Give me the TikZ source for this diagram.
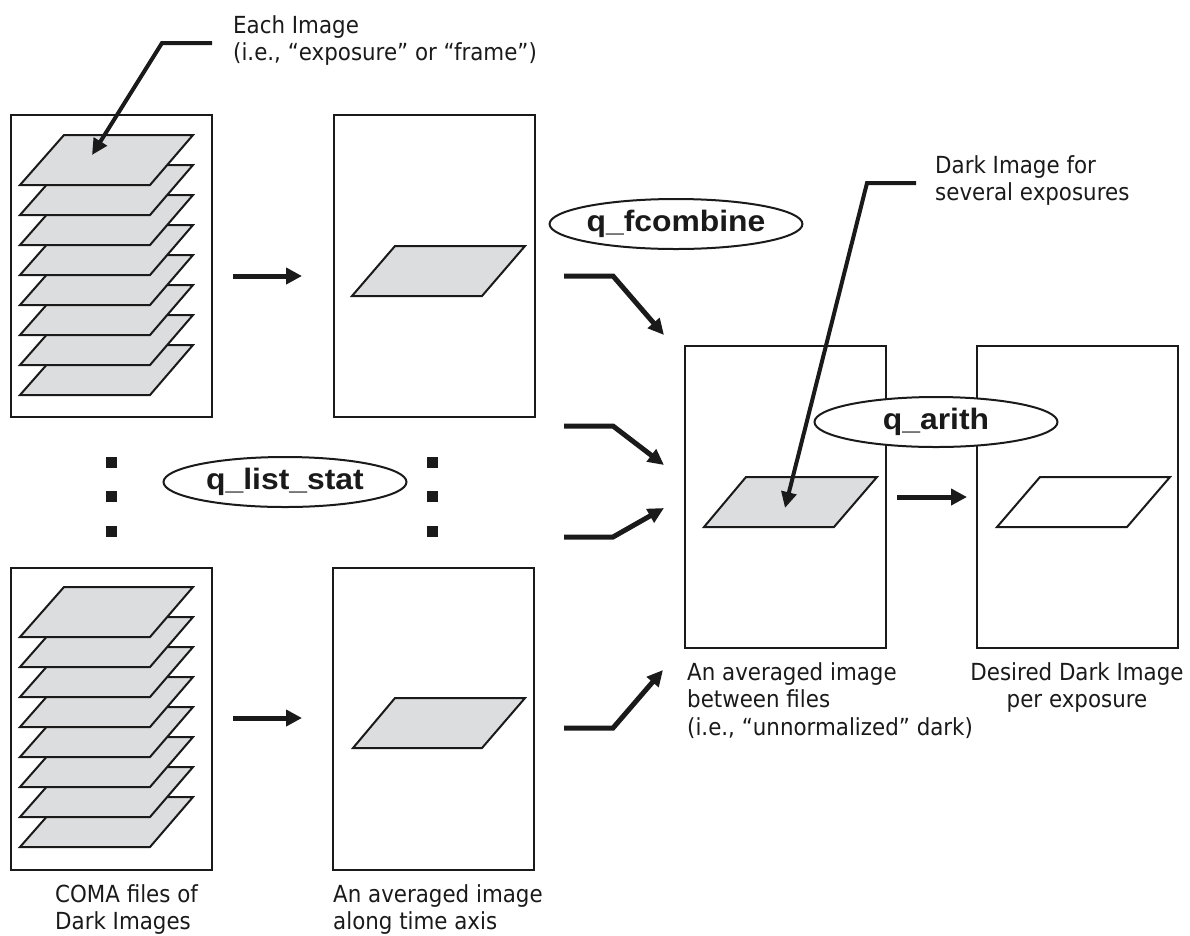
\documentclass[tikz,border=0pt]{standalone}
\usepackage{fontspec}
\setmainfont[FakeStretch=0.91]{DejaVu Sans}
\newfontfamily\qfont[FakeStretch=1.08]{Liberation Sans}
\usetikzlibrary{shapes.geometric,arrows.meta}
\definecolor{ink}{HTML}{1A1A1A}
\definecolor{sheetgray}{HTML}{DCDDDF}
\tikzset{
  box/.style={draw=ink, line width=2pt, minimum width=201pt, minimum height=302pt, inner sep=0pt},
  sheet/.style={draw=ink, line width=2pt, fill=sheetgray, line join=miter},
  blank/.style={draw=ink, line width=2pt, fill=white, line join=miter},
  flow/.style={draw=ink, line width=5pt, -{Triangle[length=16pt,width=16pt]}},
  leader/.style={draw=ink, line width=4pt, line join=miter, -{Triangle[length=16pt,width=15pt]}},
  tool/.style={ellipse, draw=ink, line width=2pt, fill=white, minimum width=243pt, minimum height=50pt, inner sep=0pt, text=ink, font=\qfont\bfseries\fontsize{29.5}{29.5}\selectfont},
  lab/.style={inner sep=0pt, text=ink, font=\fontsize{23.5}{27.5}\selectfont},
  dot/.style={rectangle, fill=ink, minimum size=11pt, inner sep=0pt}
}
\begin{document}
\begin{tikzpicture}[x=1pt,y=-1pt]
\useasboundingbox (0,0) rectangle (1190,935);
% boxes
\node[box] (b1) at (111.5,266) {};
\node[box] (b2) at (434.5,266) {};
\node[box] (b3) at (111,718.5) {};
\node[box] (b4) at (433.5,718.5) {};
\node[box] (b5) at (785,496.5) {};
\node[box] (b6) at (1077,496.5) {};
% sheet stacks
\foreach \k in {7,...,0} {
  \pgfmathsetmacro\tp{135+30*\k}
  \draw[sheet] (20,\tp+50) -- (150,\tp+50) -- (193,\tp) -- (64,\tp) -- cycle;
}
\foreach \k in {7,...,0} {
  \pgfmathsetmacro\tp{587+30*\k}
  \draw[sheet] (20,\tp+50) -- (150,\tp+50) -- (193,\tp) -- (64,\tp) -- cycle;
}
\draw[sheet] (352,296) -- (482,296) -- (525,246) -- (395,246) -- cycle;
\draw[sheet] (353,748) -- (482,748) -- (525,698) -- (395,698) -- cycle;
\draw[sheet] (704,527) -- (834,527) -- (877,477) -- (746,477) -- cycle;
\draw[blank] (997,527) -- (1127,527) -- (1170,477) -- (1040,477) -- cycle;
% dots
\foreach \y [count=\i] in {462,496.5,531} {
  \node[dot] (dl\i) at (111,\y) {};
  \node[dot] (dm\i) at (432,\y) {};
}
% horizontal flow arrows
\coordinate (a1s) at (233,276); \coordinate (a1e) at (302,276);
\coordinate (a2s) at (233,718); \coordinate (a2e) at (302,718);
\coordinate (a3s) at (897,497); \coordinate (a3e) at (967,497);
\draw[flow] (a1s) -- (a1e);
\draw[flow] (a2s) -- (a2e);
\draw[flow] (a3s) -- (a3e);
% merging arrows into b5
\coordinate (mAs) at (564,276); \coordinate (mAk) at (613,276); \coordinate (mAe) at (664,335);
\coordinate (mBs) at (564,426); \coordinate (mBk) at (613,426); \coordinate (mBe) at (664,465);
\coordinate (mCs) at (564,537); \coordinate (mCk) at (613,537); \coordinate (mCe) at (664,508);
\coordinate (mDs) at (564,728); \coordinate (mDk) at (613,728); \coordinate (mDe) at (663,670);
\draw[leader,line width=5pt] (mAs) -- (mAk) -- (mAe);
\draw[leader,line width=5pt] (mBs) -- (mBk) -- (mBe);
\draw[leader,line width=5pt] (mCs) -- (mCk) -- (mCe);
\draw[leader,line width=5pt] (mDs) -- (mDk) -- (mDe);
% tool ellipses
\node[tool] (qf) at (676,224) {q\_fcombine};
\node[tool] (qa) at (936,422) {q\_arith};
\node[tool] (ql) at (285,482) {q\_list\_stat};
% leaders
\coordinate (l1s) at (212,43); \coordinate (l1k) at (162,43); \coordinate (l1e) at (92,155);
\draw[leader] (l1s) -- (l1k) -- (l1e);
\coordinate (l2s) at (916,183); \coordinate (l2k) at (867,183); \coordinate (l2e) at (785,508);
\draw[leader] (l2s) -- (l2k) -- (l2e);
% labels
\node[lab, anchor=north west, align=left] (t1) at (233,15) {Each Image\\(i.e., “exposure” or “frame”)};
\node[lab, anchor=north west, align=left] (t2) at (935,155) {Dark Image for\\several exposures};
\node[lab, anchor=north west, align=left] (t3) at (55,884) {COMA files of\\Dark Images};
\node[lab, anchor=north west, align=left] (t4) at (333,884) {An averaged image\\along time axis};
\node[lab, anchor=north west, align=left] (t5) at (687,662) {An averaged image\\between files\\(i.e., “unnormalized” dark)};
\node[lab, anchor=north, align=center] (t6) at (1077,662) {Desired Dark Image\\per exposure};
\end{tikzpicture}
\end{document}
